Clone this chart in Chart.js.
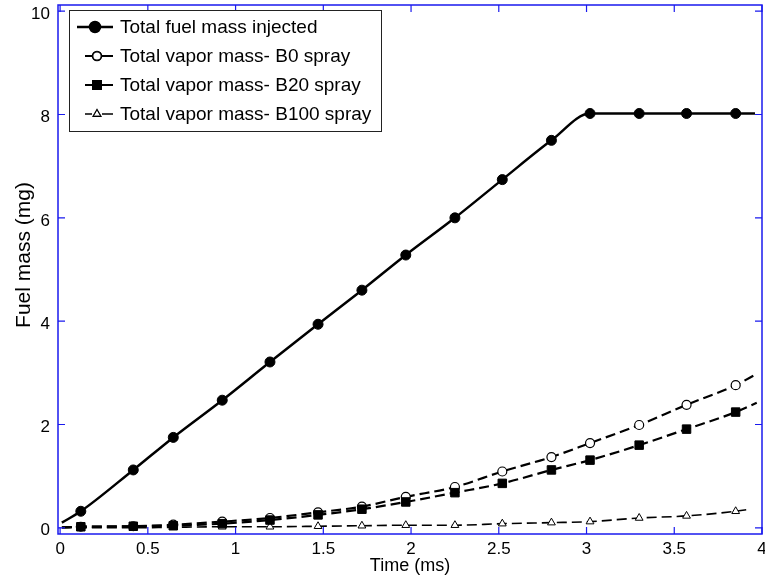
<!DOCTYPE html>
<html>
<head>
<meta charset="utf-8">
<script src="https://cdn.jsdelivr.net/npm/chart.js@4.4.0/dist/chart.umd.min.js"></script>
<style>
  html, body { margin: 0; padding: 0; background: #fff; }
  #wrap { width: 765px; height: 575px; }
</style>
</head>
<body>
<div id="wrap"><canvas id="fuel-chart"></canvas></div>
<script>
// marker positions (ms), shared by all four series
const timeMs = [0.118, 0.417, 0.645, 0.924, 1.196, 1.47, 1.72, 1.97, 2.25, 2.52, 2.80, 3.02, 3.30, 3.57, 3.85];

const fuelInjected = [0.32, 1.12, 1.75, 2.47, 3.21, 3.94, 4.60, 5.28, 6.00, 6.74, 7.50, 8.02, 8.02, 8.02, 8.02];
const vaporB0      = [0.02, 0.03, 0.06, 0.12, 0.19, 0.30, 0.41, 0.60, 0.79, 1.09, 1.37, 1.64, 1.99, 2.38, 2.76];
const vaporB20     = [0.02, 0.03, 0.04, 0.08, 0.15, 0.25, 0.36, 0.50, 0.68, 0.86, 1.12, 1.31, 1.60, 1.91, 2.24];
const vaporB100    = [0.00, 0.00, 0.01, 0.02, 0.02, 0.03, 0.04, 0.05, 0.05, 0.08, 0.10, 0.12, 0.19, 0.23, 0.32];

// where each curve starts and ends (no marker there)
const startTime = [0.01, 0.01, 0.01, 0.01];
const startMass = [0.10, 0.01, 0.01, 0.00];
const endTime   = [3.96, 3.97, 3.97, 3.91];
const endMass   = [8.02, 2.98, 2.42, 0.35];

const seriesLabels = [
  'Total fuel mass injected',
  'Total vapor mass- B0 spray',
  'Total vapor mass- B20 spray',
  'Total vapor mass- B100 spray'
];

const xTicks = [0, 0.5, 1, 1.5, 2, 2.5, 3, 3.5, 4];
const yTicks = [0, 2, 4, 6, 8, 10];

const FONT = "'Liberation Sans', Arial, sans-serif";
const AXIS_BLUE = '#1a1aee';
const DASH = [10, 5];

function buildPoints(i, values) {
  const pts = [{ x: startTime[i], y: startMass[i] }];
  timeMs.forEach((t, k) => pts.push({ x: t, y: values[k] }));
  pts.push({ x: endTime[i], y: endMass[i] });
  return pts;
}

const markerOnly = (r) => (ctx) => {
  const n = ctx.dataset.data.length;
  return (ctx.dataIndex === 0 || ctx.dataIndex === n - 1) ? 0 : r;
};

// order: lower number is painted on top (B20 squares cover B0 circles)
const datasets = [
  {
    label: seriesLabels[0],
    data: buildPoints(0, fuelInjected),
    order: 1,
    borderColor: '#000', borderWidth: 2.5,
    pointStyle: 'circle', pointRadius: markerOnly(5),
    pointBackgroundColor: '#000', pointBorderColor: '#000', pointBorderWidth: 1
  },
  {
    label: seriesLabels[1],
    data: buildPoints(1, vaporB0),
    order: 3,
    borderColor: '#000', borderWidth: 2.2, borderDash: DASH,
    pointStyle: 'circle', pointRadius: markerOnly(4.5),
    pointBackgroundColor: '#fff', pointBorderColor: '#000', pointBorderWidth: 1.2
  },
  {
    label: seriesLabels[2],
    data: buildPoints(2, vaporB20),
    order: 2,
    borderColor: '#000', borderWidth: 2.2, borderDash: DASH,
    pointStyle: 'rect', pointRadius: markerOnly(6),
    pointBackgroundColor: '#000', pointBorderColor: '#000', pointBorderWidth: 1
  },
  {
    label: seriesLabels[3],
    data: buildPoints(3, vaporB100),
    order: 4,
    borderColor: '#000', borderWidth: 1.6, borderDash: DASH,
    pointStyle: 'triangle', pointRadius: markerOnly(4.5),
    pointBackgroundColor: '#fff', pointBorderColor: '#000', pointBorderWidth: 1
  }
];

// axes box with inward ticks, y title and the legend box
const frameAndLegend = {
  id: 'frameAndLegend',
  afterDraw(chart) {
    const { ctx, chartArea: a, scales } = chart;
    const tl = 7;
    ctx.save();
    ctx.strokeStyle = AXIS_BLUE;
    ctx.lineWidth = 1.5;
    ctx.strokeRect(a.left, a.top, a.right - a.left, a.bottom - a.top);
    ctx.lineWidth = 1.2;
    ctx.beginPath();
    xTicks.forEach(v => {
      const px = scales.x.getPixelForValue(v);
      ctx.moveTo(px, a.bottom); ctx.lineTo(px, a.bottom - tl);
      ctx.moveTo(px, a.top); ctx.lineTo(px, a.top + tl);
    });
    yTicks.forEach(v => {
      const py = scales.y.getPixelForValue(v);
      ctx.moveTo(a.left, py); ctx.lineTo(a.left + tl, py);
      ctx.moveTo(a.right, py); ctx.lineTo(a.right - tl, py);
    });
    ctx.stroke();

    // y axis title
    ctx.fillStyle = '#000';
    ctx.font = '21px ' + FONT;
    ctx.textAlign = 'center';
    ctx.textBaseline = 'middle';
    ctx.translate(24, 255);
    ctx.rotate(-Math.PI / 2);
    ctx.fillText('Fuel mass (mg)', 0, 0);
    ctx.restore();

    // legend
    ctx.save();
    const box = { x: 69, y: 10, w: 312, h: 121 };
    ctx.fillStyle = '#fff';
    ctx.fillRect(box.x, box.y, box.w, box.h);
    ctx.strokeStyle = '#222';
    ctx.lineWidth = 1;
    ctx.strokeRect(box.x + 0.5, box.y + 0.5, box.w, box.h);
    const rowY = [27, 56, 85, 114];
    chart.data.datasets.forEach((ds, i) => {
      const y = rowY[i];
      ctx.strokeStyle = '#000';
      ctx.lineWidth = ds.borderWidth;
      ctx.beginPath();
      if (i === 0) { ctx.moveTo(77, y); ctx.lineTo(113, y); }
      else { ctx.moveTo(85, y); ctx.lineTo(92, y); ctx.moveTo(102, y); ctx.lineTo(113, y); }
      ctx.stroke();
      const r = i === 0 ? 5 : (i === 2 ? 5.5 : 4.2);
      Chart.helpers.drawPoint(ctx, {
        pointStyle: ds.pointStyle, radius: r, borderWidth: ds.pointBorderWidth, rotation: 0
      }, i === 0 ? 95 : 97, y);
      ctx.fillStyle = ds.pointBackgroundColor;
      ctx.strokeStyle = ds.pointBorderColor;
      ctx.lineWidth = ds.pointBorderWidth;
      ctx.fill();
      ctx.stroke();
      ctx.fillStyle = '#000';
      ctx.font = '19px ' + FONT;
      ctx.textAlign = 'left';
      ctx.textBaseline = 'middle';
      ctx.fillText(ds.label, 120, y + 1);
    });
    ctx.restore();
  }
};

new Chart(document.getElementById('fuel-chart'), {
  type: 'line',
  data: { datasets },
  options: {
    responsive: true,
    maintainAspectRatio: false,
    animation: false,
    layout: { padding: { top: 5, right: 3, left: 0, bottom: 0 } },
    elements: { line: { cubicInterpolationMode: 'monotone', fill: false } },
    plugins: { legend: { display: false }, tooltip: { enabled: false } },
    scales: {
      x: {
        type: 'linear',
        min: -0.012,
        max: 4,
        afterBuildTicks: (s) => { s.ticks = xTicks.map(v => ({ value: v })); },
        afterFit: (s) => { s.height = 41; s.paddingLeft = 0; s.paddingRight = 0; },
        grid: { display: false, drawTicks: false },
        border: { display: false },
        ticks: {
          color: '#000', font: { family: FONT, size: 17 }, padding: 5, maxRotation: 0, autoSkip: false,
          callback: (v) => String(Math.round(v * 10) / 10)
        },
        title: { display: true, text: 'Time (ms)', color: '#000', font: { family: FONT, size: 18 }, padding: { top: 0, bottom: -2 } }
      },
      y: {
        type: 'linear',
        min: -0.12,
        max: 10.12,
        afterBuildTicks: (s) => { s.ticks = yTicks.map(v => ({ value: v })); },
        afterFit: (s) => { s.width = 58; s.paddingTop = 0; s.paddingBottom = 0; },
        grid: { display: false, drawTicks: false },
        border: { display: false },
        ticks: { color: '#000', font: { family: FONT, size: 17 }, padding: 8, labelOffset: 3, callback: (v) => String(v) }
      }
    }
  },
  plugins: [frameAndLegend]
});
</script>
</body>
</html>
